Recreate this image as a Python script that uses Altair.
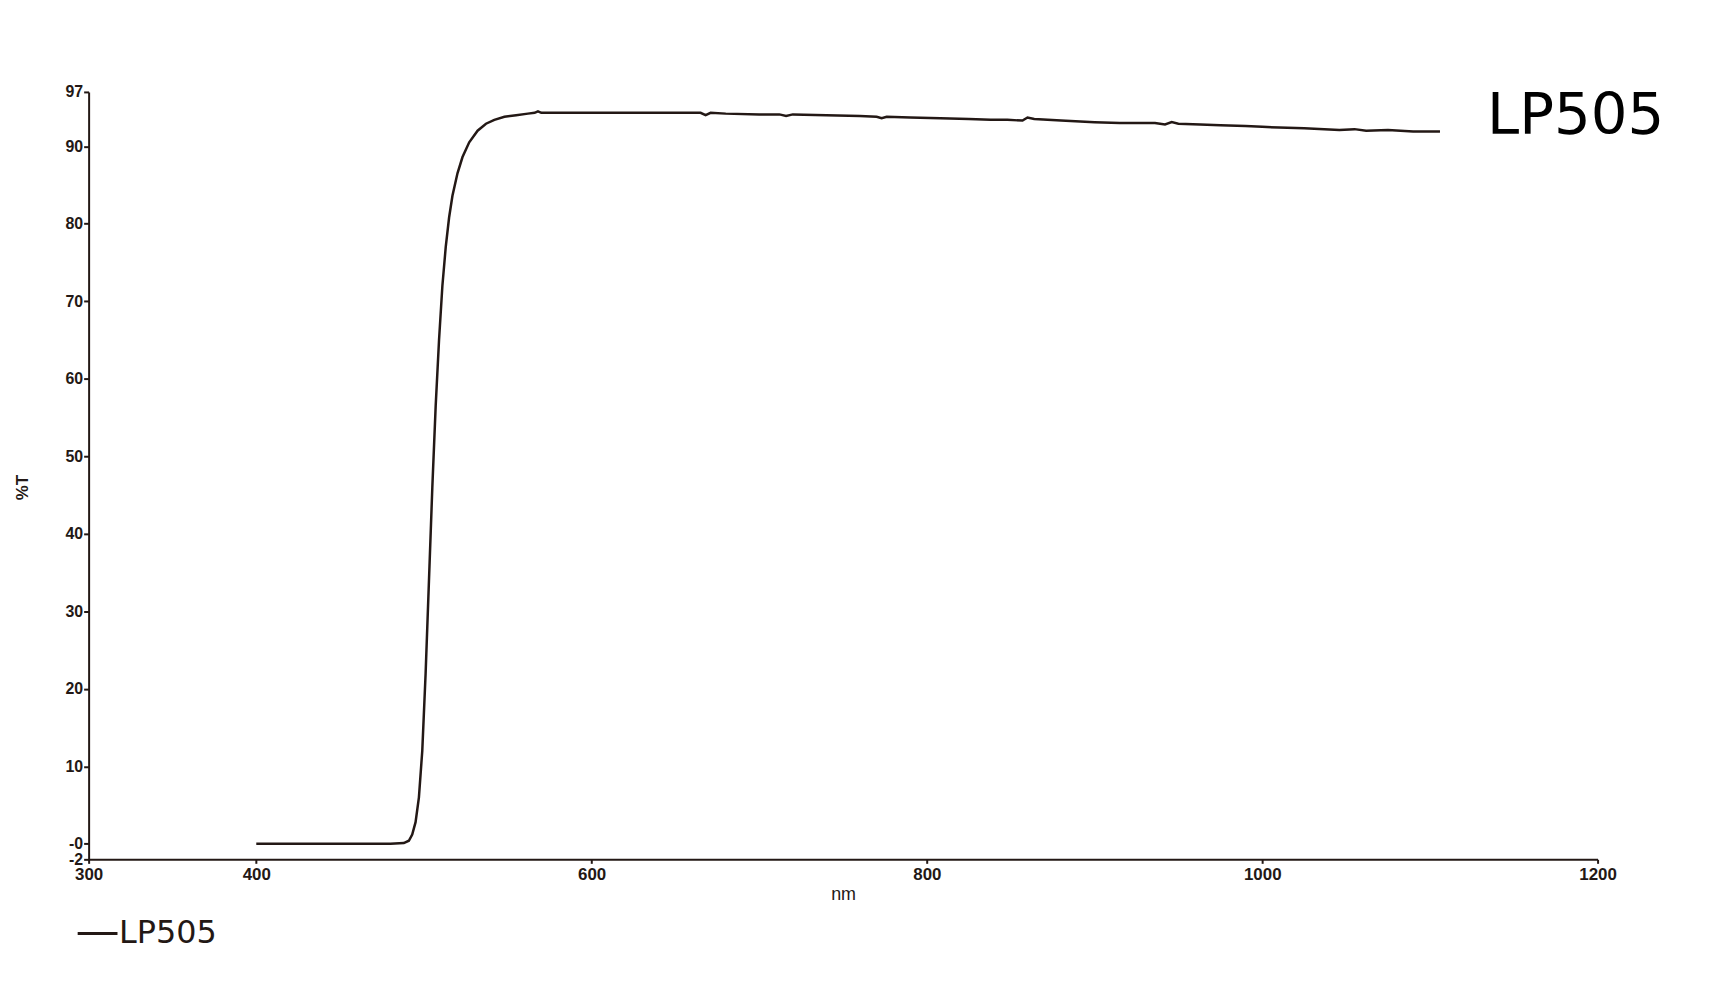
import altair as alt
import pandas as pd

# ---- data ----
wavelength_nm = [400, 430, 460, 480, 488, 491, 493, 495, 497, 499,
                 501, 503, 505, 507, 509, 511, 513, 515, 517, 520,
                 523, 527, 532, 537, 542, 548, 555, 562, 566, 568,
                 570, 575, 590, 610, 630, 650, 665, 668, 671, 680,
                 700, 712, 716, 720, 740, 760, 770, 773, 776, 790,
                 808, 825, 838, 848, 857, 860, 864, 880, 900, 915,
                 936, 942, 946, 950, 963, 975, 990, 1000, 1010, 1025,
                 1046, 1055, 1062, 1075, 1090, 1100, 1106]
transmission = [0.0, 0.0, 0.0, 0.0, 0.1, 0.4, 1.2, 2.8, 6.0, 12.0,
                22.0, 34.0, 46.0, 56.5, 65.0, 72.0, 77.0, 80.8, 83.6, 86.5,
                88.6, 90.5, 92.0, 92.9, 93.4, 93.8, 94.0, 94.2, 94.3, 94.5,
                94.3, 94.3, 94.3, 94.3, 94.3, 94.3, 94.3, 94.0, 94.3, 94.2,
                94.1, 94.1, 93.9, 94.1, 94.0, 93.9, 93.8, 93.6, 93.8, 93.7,
                93.6, 93.5, 93.4, 93.4, 93.3, 93.7, 93.5, 93.3, 93.1, 93.0,
                93.0, 92.8, 93.1, 92.9, 92.8, 92.7, 92.6, 92.5, 92.4, 92.3,
                92.1, 92.2, 92.0, 92.1, 91.9, 91.9, 91.9]
series_name = "LP505"
x_ticks = [300, 400, 600, 800, 1000, 1200]
y_ticks = [-2, 0, 10, 20, 30, 40, 50, 60, 70, 80, 90, 97]

df = pd.DataFrame({"nm": wavelength_nm, "T": transmission, "series": series_name})

INK = "#231815"

line = alt.Chart(df).mark_line(strokeWidth=2.5, interpolate="linear").encode(
    x=alt.X("nm:Q",
            scale=alt.Scale(domain=[300, 1200], nice=False, zero=False),
            axis=alt.Axis(values=x_ticks, title="nm", grid=False, format="d",
                          labelFlush=False, labelOverlap=False,
                          labelFont="Liberation Sans", labelFontWeight="bold",
                          labelFontSize=17, labelColor=INK, labelPadding=3,
                          tickSize=4, tickWidth=2, tickColor=INK,
                          domainColor=INK, domainWidth=2,
                          titleFont="Liberation Sans", titleFontSize=18,
                          titleFontWeight="normal", titleColor=INK,
                          titleY=40, titleBaseline="alphabetic")),
    y=alt.Y("T:Q",
            scale=alt.Scale(domain=[-2, 97], nice=False, zero=False),
            axis=alt.Axis(values=y_ticks, title="%T", grid=False,
                          labelFlush=False, labelOverlap=False,
                          labelExpr="datum.value == 0 ? '-0' : (datum.value == -2 ? '-2' : datum.label)",
                          labelFont="Liberation Sans", labelFontWeight="bold",
                          labelFontSize=16, labelColor=INK, labelPadding=1,
                          tickSize=5, tickWidth=2, tickColor=INK,
                          domainColor=INK, domainWidth=2,
                          titleFont="Liberation Sans", titleFontSize=17,
                          titleFontWeight="bold", titleColor=INK,
                          titleAngle=270, titleX=-66, titleY=397,
                          titleAlign="center", titleBaseline="middle")),
    color=alt.Color("series:N",
                    scale=alt.Scale(domain=[series_name], range=[INK]),
                    legend=alt.Legend(title=None, orient="none",
                                      legendX=-12.5, legendY=824,
                                      symbolType="stroke", symbolSize=1600,
                                      symbolStrokeWidth=3, symbolStrokeColor=INK,
                                      labelFont="DejaVu Sans", labelFontSize=32,
                                      labelColor=INK, labelOffset=0, padding=0)),
)

label = alt.Chart(alt.Data(values=[{"label": series_name}])).mark_text(
    align="left", baseline="alphabetic", font="DejaVu Sans",
    fontSize=58, color="#000000"
).encode(
    x=alt.value(1405), y=alt.value(42), text="label:N"
)

chart = alt.layer(line, label).properties(
    width=1516, height=771,
    autosize=alt.AutoSizeParams(type="none"),
    padding={"left": 81, "top": 82, "right": 124, "bottom": 140},
    background="white",
).configure_view(stroke=None)

chart.save("out.html", embed_options={"renderer": "svg", "actions": False})
